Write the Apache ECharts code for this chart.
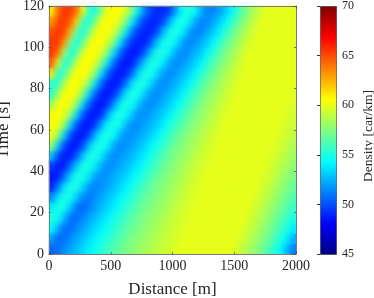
<!DOCTYPE html>
<html>
<head>
<meta charset="utf-8">
<script src="https://cdn.jsdelivr.net/npm/echarts@6/dist/echarts.min.js"></script>
<style>
html,body{margin:0;padding:0;background:#fff;}
#wrap{position:relative;width:374px;height:298px;overflow:hidden;}
#chart{position:absolute;left:0;top:0;width:374px;height:298px;}
#smoothClip{position:absolute;left:50px;top:7px;width:245px;height:246px;overflow:hidden;pointer-events:none;}
#smooth{position:absolute;left:-1px;top:-1px;width:247px;height:248px;filter:blur(3px);}
</style>
</head>
<body>
<div id="wrap">
  <div id="chart"></div>
  <div id="smoothClip"><div id="smooth"></div></div>
</div>
<script>
// Distance cell centres [m]
const distance = [25,75,125,175,225,275,325,375,425,475,525,575,625,675,725,775,825,875,925,975,
  1025,1075,1125,1175,1225,1275,1325,1375,1425,1475,1525,1575,1625,1675,1725,1775,1825,1875,1925,1975];
// Time cell centres [s]
const time = [2.5,7.5,12.5,17.5,22.5,27.5,32.5,37.5,42.5,47.5,52.5,57.5,62.5,67.5,72.5,77.5,82.5,87.5,92.5,97.5,102.5,107.5,112.5,117.5];
// Density [car/km], one row per time value (bottom to top), one column per distance value
const density = [
[50.6,50.9,51.6,52.2,52.8,53.5,54.1,54.7,55.3,55.8,56.4,56.9,57.3,57.7,58.0,58.4,58.7,59.0,59.3,59.5,59.8,60,60,60,60,60,60,60,60,60,59.6,59.0,58.4,57.8,57.2,56.3,55.4,54.4,52.8,51.2],
[52.1,50.6,50.9,51.5,52.2,52.8,53.5,54.1,54.7,55.3,55.8,56.4,57.0,57.4,57.7,58.1,58.4,58.8,59.1,59.4,59.6,59.9,60,60,60,60,60,60,60,60,60,59.4,58.9,58.3,57.6,57.0,56.1,55.2,54.2,52.5],
[54.5,52.4,50.7,50.8,51.5,52.1,52.8,53.5,54.1,54.7,55.3,55.9,56.5,57.0,57.4,57.8,58.2,58.5,58.9,59.2,59.5,59.7,60,60,60,60,60,60,60,60,60,59.8,59.3,58.7,58.1,57.5,56.8,56.0,55.1,54.0],
[55.2,54.6,52.7,50.8,50.7,51.4,52.1,52.8,53.4,54.1,54.8,55.4,56.0,56.6,57.1,57.5,57.9,58.2,58.6,59.0,59.3,59.6,59.8,60,60,60,60,60,60,60,60,60,59.6,59.1,58.6,58.0,57.3,56.6,55.8,55.0],
[54.1,55.2,54.7,53.0,50.9,50.6,51.3,52.0,52.7,53.3,54.0,54.8,55.4,56.0,56.6,57.2,57.5,57.9,58.3,58.7,59.1,59.4,59.7,59.9,60,60,60,60,60,60,60,60,59.9,59.5,59.0,58.4,57.8,57.2,56.5,55.7],
[51.4,53.9,55.1,54.8,53.1,51.4,51.1,51.6,52.2,52.8,53.5,54.2,54.8,55.4,56.1,56.7,57.2,57.6,58.0,58.4,58.8,59.2,59.5,59.8,60,60,60,60,60,60,60,60,60,59.7,59.3,58.8,58.2,57.6,57.0,56.3],
[49.0,51.1,53.7,55.1,55.0,53.5,51.7,51.3,51.7,52.2,52.7,53.4,54.1,54.8,55.5,56.1,56.8,57.3,57.7,58.1,58.5,58.9,59.3,59.6,59.9,60,60,60,60,60,60,60,60,60,59.6,59.2,58.7,58.1,57.5,56.9],
[48.6,48.9,50.8,53.4,55.0,55.0,53.7,52.0,51.6,51.9,52.3,52.8,53.4,54.1,54.8,55.5,56.2,56.9,57.3,57.8,58.2,58.6,59.1,59.4,59.7,60,60,60,60,60,60,60,60,60,59.8,59.5,59.1,58.5,57.9,57.4],
[49.6,48.7,48.8,50.9,53.2,55.0,55.0,53.9,52.2,51.5,51.8,52.3,52.8,53.3,54.1,54.8,55.5,56.2,56.9,57.4,57.9,58.3,58.8,59.2,59.5,59.8,60,60,60,60,60,60,60,60,60,59.7,59.3,58.9,58.4,57.8],
[53.1,49.7,48.7,48.8,50.3,53.0,54.9,55.1,54.0,52.2,51.5,51.8,52.2,52.7,53.3,54.1,54.9,55.6,56.3,57.0,57.5,58.0,58.4,58.9,59.3,59.6,59.9,60,60,60,60,60,60,60,60,59.9,59.6,59.2,58.8,58.2],
[58.0,53.1,49.9,48.7,48.7,50.0,52.8,54.7,55.1,54.2,52.3,51.5,51.7,52.2,52.7,53.3,54.1,54.9,55.6,56.4,57.1,57.6,58.1,58.5,59.0,59.4,59.7,60,60,60,60,60,60,60,60,60,59.8,59.5,59.1,58.6],
[60.3,57.9,53.2,50.0,48.7,48.6,49.8,52.5,54.6,55.2,54.4,52.5,51.6,51.7,52.2,52.6,53.3,54.1,54.9,55.7,56.5,57.2,57.7,58.2,58.7,59.1,59.5,59.9,60,60,60,60,60,60,60,60,60,59.7,59.4,59.0],
[60.7,60.2,57.8,53.3,50.1,48.8,48.6,49.6,52.2,54.4,55.2,54.5,52.6,51.6,51.6,52.1,52.6,53.2,54.1,54.9,55.7,56.5,57.2,57.7,58.3,58.8,59.2,59.6,60,60,60,60,60,60,60,60,60,59.9,59.6,59.3],
[60.4,60.7,60.1,57.7,53.4,50.3,48.8,48.6,49.3,51.9,54.3,55.2,54.6,52.8,51.7,51.6,52.1,52.6,53.2,54.1,55.0,55.8,56.6,57.3,57.9,58.4,59.0,59.4,59.8,60,60,60,60,60,60,60,60,60,59.8,59.5],
[58.2,60.4,60.7,60.0,57.7,53.5,50.4,48.8,48.6,49.3,51.6,54.1,55.2,54.7,53.0,51.7,51.6,52.0,52.6,53.2,54.1,55.0,55.8,56.7,57.4,58.0,58.5,59.1,59.5,59.9,60,60,60,60,60,60,60,60,59.9,59.7],
[55.1,58.5,60.5,60.7,60.0,57.6,53.5,50.5,48.9,48.6,49.1,51.4,53.9,55.1,54.8,53.2,51.8,51.5,52.0,52.5,53.2,54.1,55.0,55.9,56.8,57.5,58.1,58.7,59.2,59.7,60,60,60,60,60,60,60,60,60,59.9],
[55.4,55.5,58.9,60.5,60.6,59.9,57.5,53.6,50.6,49.0,48.6,49.0,51.1,53.7,55.1,55.0,53.5,51.9,51.5,51.9,52.5,53.1,54.1,55.0,56.0,56.9,57.6,58.2,58.9,59.4,59.8,60,60,60,60,60,60,60,60,60],
[61.2,55.1,55.8,59.2,60.6,60.6,60.0,57.5,53.6,50.7,49.0,48.6,48.9,50.8,53.4,55.0,55.0,53.7,52.0,51.5,51.9,52.5,53.1,54.1,55.1,56.1,57.1,57.7,58.4,59.1,59.5,60,60,60,60,60,60,60,60,60],
[64.7,59.7,54.9,56.1,59.5,60.6,60.6,59.8,57.5,53.7,50.8,49.1,48.6,48.8,50.9,53.2,55.0,55.0,53.9,52.2,51.5,51.8,52.4,53.0,54.1,55.1,56.2,57.1,57.8,58.5,59.2,59.7,60,60,60,60,60,60,60,60],
[65.6,64.1,58.5,54.7,56.4,59.7,60.7,60.6,59.7,57.4,53.7,50.8,49.1,48.6,48.8,50.3,53.0,55.0,55.1,54.0,52.2,51.5,51.7,52.4,53.0,54.1,55.2,56.3,57.3,58.0,58.8,59.4,59.9,60,60,60,60,60,60,60],
[65.5,65.5,63.3,57.4,54.7,56.8,59.8,60.7,60.6,59.7,57.4,53.8,50.9,49.2,48.8,48.8,50.1,52.8,54.7,55.1,54.2,52.3,51.4,51.6,52.3,53.0,54.1,55.2,56.4,57.4,58.2,59.0,59.6,60,60,60,60,60,60,60],
[65.0,65.6,65.2,62.4,56.6,54.8,57.2,60.0,60.7,60.5,59.6,57.3,53.9,51.0,49.4,48.9,48.9,49.9,52.5,54.6,55.2,54.4,52.4,51.3,51.3,52.2,52.9,54.1,55.3,56.5,57.5,58.4,59.2,59.8,60,60,60,60,60,60],
[63.2,65.2,65.6,64.7,61.5,55.7,54.9,57.5,60.2,60.7,60.5,59.6,57.3,53.9,51.2,49.6,49.0,49.0,49.8,52.2,54.4,55.2,54.5,52.6,51.4,51.3,52.1,52.9,54.1,55.3,56.6,57.7,58.6,59.4,60,60,60,60,60,60],
[60.9,64.4,65.5,65.5,64.1,60.3,55.5,54.9,57.9,60.3,60.7,60.5,59.6,57.2,53.9,51.2,49.7,49.1,49.1,49.6,51.9,54.3,55.2,54.6,52.8,51.5,51.3,52.0,52.8,54.1,55.4,56.8,57.9,58.8,59.6,60,60,60,60,60]
];
// Axis ranges / tick steps
const distanceTicks = [0, 500, 1000, 1500, 2000];
const timeTicks = [0, 20, 40, 60, 80, 100, 120];
const densityTicks = [45, 50, 55, 60, 65, 70];
const jet = ['#000080','#0000ff','#0080ff','#00ffff','#80ff80','#ffff00','#ff8000','#ff0000','#800000'];

const cells = [];
for (let j = 0; j < time.length; j++) {
  for (let i = 0; i < distance.length; i++) {
    cells.push([i, j, density[j][i]]);
  }
}

const FONT = 'Liberation Serif';
const TXT = '#262626';
const plain = v => String(v);
const boxLine = {show: true, lineStyle: {color: '#7a7a7a', width: 1}};
const boxTick = {show: true, inside: true, length: 3, lineStyle: {color: '#555', width: 1}};
const vmin = densityTicks[0], vmax = densityTicks[densityTicks.length - 1];

const heatSeries = () => ({
  type: 'heatmap', xAxisIndex: 0, yAxisIndex: 0, data: cells,
  progressive: 0, emphasis: {disabled: true}, itemStyle: {borderWidth: 0}
});

// Main chart: heatmap, axes, colour bar
const chart = echarts.init(document.getElementById('chart'), null, {renderer: 'canvas'});
chart.setOption({
  animation: false,
  backgroundColor: '#ffffff',
  grid: [
    {left: 49, top: 6, width: 247, height: 248, containLabel: false, outerBoundsMode: 'none'},
    {left: 320, top: 6, width: 16, height: 248, containLabel: false, outerBoundsMode: 'none'}
  ],
  xAxis: [
    {type: 'category', gridIndex: 0, data: distance, show: false, position: 'bottom'},
    {type: 'value', gridIndex: 0, position: 'bottom', z: 10,
      min: distanceTicks[0], max: distanceTicks[distanceTicks.length - 1], interval: distanceTicks[1] - distanceTicks[0],
      name: 'Distance [m]', nameLocation: 'middle', nameGap: 27,
      nameTextStyle: {fontFamily: FONT, fontSize: 17, color: TXT},
      axisLine: boxLine, axisTick: boxTick, splitLine: {show: false},
      axisLabel: {fontFamily: FONT, fontSize: 14, color: TXT, margin: 5, formatter: plain}},
    {type: 'value', gridIndex: 0, position: 'top', z: 10,
      min: distanceTicks[0], max: distanceTicks[distanceTicks.length - 1], interval: distanceTicks[1] - distanceTicks[0],
      axisLine: boxLine, axisTick: boxTick, splitLine: {show: false}, axisLabel: {show: false}},
    {type: 'value', gridIndex: 1, show: false, min: 0, max: 1}
  ],
  yAxis: [
    {type: 'category', gridIndex: 0, data: time, show: false, position: 'left'},
    {type: 'value', gridIndex: 0, position: 'left', z: 10,
      min: timeTicks[0], max: timeTicks[timeTicks.length - 1], interval: timeTicks[1] - timeTicks[0],
      name: 'Time [s]', nameLocation: 'middle', nameGap: 31, nameRotate: 90,
      nameTextStyle: {fontFamily: FONT, fontSize: 17, color: TXT},
      axisLine: boxLine, axisTick: boxTick, splitLine: {show: false},
      axisLabel: {fontFamily: FONT, fontSize: 14, color: TXT, margin: 5, formatter: plain}},
    {type: 'value', gridIndex: 0, position: 'right', z: 10,
      min: timeTicks[0], max: timeTicks[timeTicks.length - 1], interval: timeTicks[1] - timeTicks[0],
      axisLine: boxLine, axisTick: boxTick, splitLine: {show: false}, axisLabel: {show: false}},
    {type: 'value', gridIndex: 1, position: 'right', z: 10,
      min: vmin, max: vmax, interval: densityTicks[1] - densityTicks[0],
      name: 'Density [car/km]', nameLocation: 'middle', nameGap: 25, nameRotate: 90,
      nameTextStyle: {fontFamily: FONT, fontSize: 13.5, color: TXT, padding: [0, 12, 0, 0]},
      axisLine: {show: false}, splitLine: {show: false},
      axisTick: {show: true, inside: true, length: 3, lineStyle: {color: '#333'}},
      axisLabel: {fontFamily: FONT, fontSize: 12, color: TXT, margin: 6, formatter: plain}}
  ],
  visualMap: {
    type: 'continuous', min: vmin, max: vmax,
    seriesIndex: 0, dimension: 2, orient: 'vertical',
    left: 320, top: 6, itemWidth: 16, itemHeight: 248, padding: 0,
    calculable: false, hoverLink: false,
    borderColor: '#444', borderWidth: 1,
    inRange: {color: jet}
  },
  series: [heatSeries()]
});

// Smoothing layer: the same heatmap drawn again and softened, shown inside the plot box only
const smooth = echarts.init(document.getElementById('smooth'), null, {renderer: 'canvas'});
smooth.setOption({
  animation: false,
  grid: {left: 0, top: 0, right: 0, bottom: 0, containLabel: false, outerBoundsMode: 'none'},
  xAxis: {type: 'category', data: distance, show: false},
  yAxis: {type: 'category', data: time, show: false},
  visualMap: {show: false, type: 'continuous', min: vmin, max: vmax, dimension: 2, inRange: {color: jet}},
  series: [heatSeries()]
});
</script>
</body>
</html>
